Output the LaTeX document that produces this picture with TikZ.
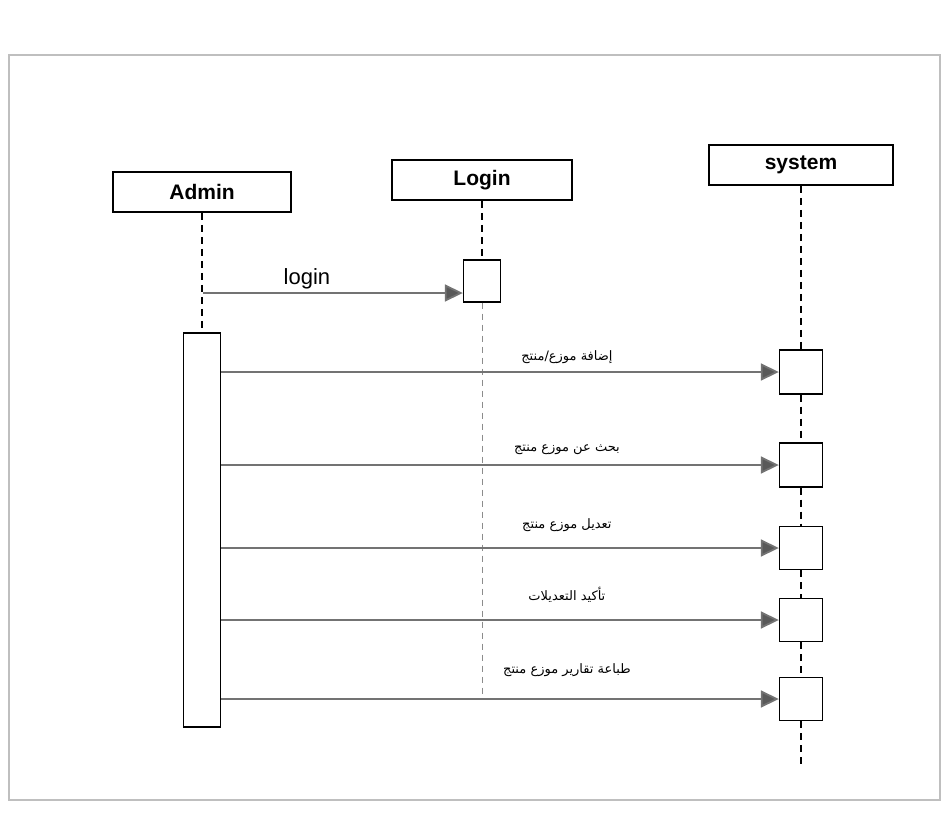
\documentclass[tikz,border=0pt]{standalone}
\usepackage{fontspec}
\setmainfont{Liberation Sans}
\newfontfamily\arabicfont[Script=Arabic]{DejaVu Sans}
\TeXXeTstate=1
\usetikzlibrary{arrows.meta}
\begin{document}
\begin{tikzpicture}[x=1pt,y=-1pt,
  actor/.style={draw=black,line width=1.6pt,fill=white,minimum height=40pt,inner sep=0pt,font=\fontsize{21}{23}\selectfont\bfseries},
  lifeline/.style={draw=black,line width=1.3pt,dash pattern=on 7pt off 5pt},
  faintline/.style={draw=black!45,line width=1pt,dash pattern=on 6pt off 5pt},
  actbox/.style={draw=black,line width=1.4pt,fill=white,inner sep=0pt},
  msg/.style={draw=black!55,line width=1.8pt,-{Triangle[length=18pt,width=17pt,fill=black!65]}},
  arlabel/.style={font=\arabicfont\fontsize{13}{15}\selectfont,inner sep=1pt},
  ltlabel/.style={font=\fontsize{22}{24}\selectfont,inner sep=1pt}]
  % page area and faint frame
  \useasboundingbox (0,0) rectangle (948,817);
  \fill[white] (0,0) rectangle (948,817);
  \draw[black!25,line width=1.2pt] (9,55) rectangle (940,800);

  % participants
  \node[actor,minimum width=178pt] (admin) at (202,192) {Admin};
  \node[actor,minimum width=180pt] (login) at (482,180) {Login};
  \node[actor,minimum width=184pt] (system) at (801,165) {system};

  % activation boxes
  \node[actbox,minimum width=37pt,minimum height=394pt] (aAdmin) at (202,530) {};
  \node[actbox,minimum width=37pt,minimum height=42pt] (aLogin) at (482,281) {};
  \node[actbox,minimum width=43pt,minimum height=44pt] (s1) at (801,372) {};
  \node[actbox,minimum width=43pt,minimum height=44pt] (s2) at (801,465) {};
  \node[actbox,minimum width=43pt,minimum height=43pt] (s3) at (801,548) {};
  \node[actbox,minimum width=43pt,minimum height=43pt] (s4) at (801,620) {};
  \node[actbox,minimum width=43pt,minimum height=43pt] (s5) at (801,699) {};

  % lifeline ends
  \coordinate (loginEnd) at (482,700);
  \coordinate (systemEnd) at (801,765);

  % lifelines
  \draw[lifeline] (admin.south) -- (aAdmin.north);
  \draw[lifeline] (login.south) -- (aLogin.north);
  \draw[faintline] (aLogin.south) -- (loginEnd);
  \draw[lifeline] (system.south) -- (s1.north);
  \draw[lifeline] (s1.south) -- (s2.north);
  \draw[lifeline] (s2.south) -- (s3.north);
  \draw[lifeline] (s3.south) -- (s4.north);
  \draw[lifeline] (s4.south) -- (s5.north);
  \draw[lifeline] (s5.south) -- (systemEnd);

  % messages
  \coordinate (m0) at (203,293);
  \draw[msg] (m0) -- (aLogin.west |- m0) node[ltlabel,pos=0.4,above=2pt] {login};

  \draw[msg] (aAdmin.east |- s1.west) -- (s1.west)
    node[arlabel,pos=0.62,above=6pt] {\beginR إضافة موزع/منتج\endR};
  \draw[msg] (aAdmin.east |- s2.west) -- (s2.west)
    node[arlabel,pos=0.62,above=8pt] {\beginR بحث عن موزع منتج\endR};
  \draw[msg] (aAdmin.east |- s3.west) -- (s3.west)
    node[arlabel,pos=0.62,above=14pt] {\beginR تعديل موزع منتج\endR};
  \draw[msg] (aAdmin.east |- s4.west) -- (s4.west)
    node[arlabel,pos=0.62,above=16pt] {\beginR تأكيد التعديلات\endR};
  \draw[msg] (aAdmin.east |- s5.west) -- (s5.west)
    node[arlabel,pos=0.62,above=20pt] {\beginR طباعة تقارير موزع منتج\endR};
\end{tikzpicture}
\end{document}
